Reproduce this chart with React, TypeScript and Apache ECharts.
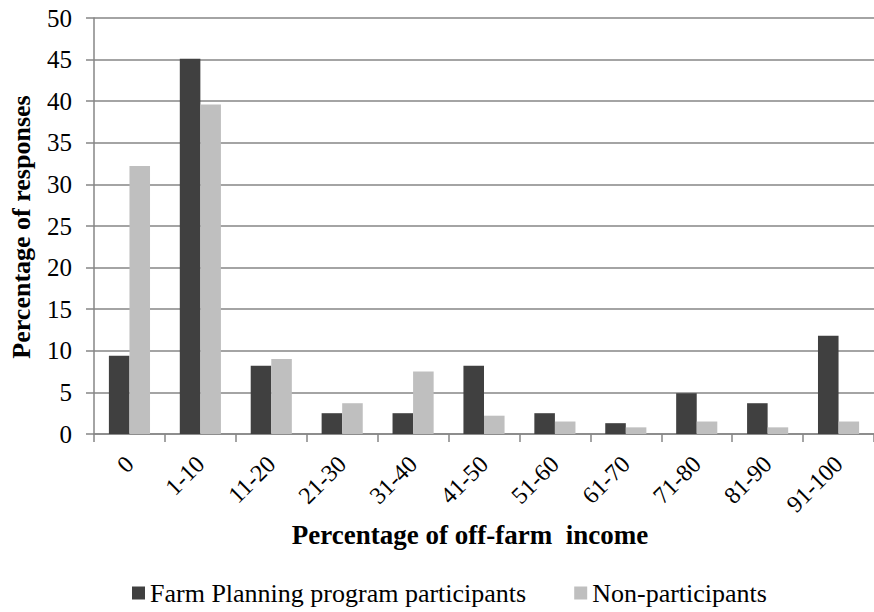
import React, { useEffect, useRef } from "react";
import * as echarts from "echarts";

const categories = ["0", "1-10", "11-20", "21-30", "31-40", "41-50", "51-60", "61-70", "71-80", "81-90", "91-100"];
const participants = [9.4, 45.1, 8.2, 2.5, 2.5, 8.2, 2.5, 1.3, 4.9, 3.7, 11.8];
const nonParticipants = [32.2, 39.6, 9.0, 3.7, 7.5, 2.2, 1.5, 0.8, 1.5, 0.8, 1.5];
const seriesNames = ["Farm Planning program participants", "Non-participants"];
const yAxisTitle = "Percentage of responses";
const xAxisTitle = "Percentage of off-farm  income";

const FONT = "Liberation Serif";
const AXIS_GRAY = "#868686";

export default function App() {
  const ref = useRef<HTMLDivElement>(null);
  useEffect(() => {
    document.body.style.margin = "0";
    if (!ref.current) return;
    const chart = echarts.init(ref.current, null, { renderer: "svg" });
    chart.setOption({
      animation: false,
      backgroundColor: "#ffffff",
      textStyle: { fontFamily: FONT },
      grid: { left: 94, top: 18, width: 789, height: 416, containLabel: false },
      legend: {
        show: true,
        left: 127,
        top: 575,
        itemWidth: 13,
        itemHeight: 13,
        itemGap: 48,
        icon: "rect",
        textStyle: { fontFamily: FONT, fontSize: 26, color: "#000" },
        data: seriesNames,
      },
      xAxis: {
        type: "category",
        data: categories,
        axisLine: { lineStyle: { color: AXIS_GRAY, width: 1.5 } },
        axisTick: { show: true, alignWithLabel: false, length: 8, lineStyle: { color: AXIS_GRAY, width: 1.5 } },
        axisLabel: { rotate: 45, margin: 26, fontFamily: FONT, fontSize: 24, color: "#000", interval: 0 },
      },
      yAxis: {
        type: "value",
        min: 0,
        max: 50,
        interval: 5,
        axisLine: { show: true, lineStyle: { color: AXIS_GRAY, width: 1.5 } },
        axisTick: { show: true, length: 8, lineStyle: { color: AXIS_GRAY, width: 1.5 } },
        splitLine: { lineStyle: { color: AXIS_GRAY, width: 1.5 } },
        axisLabel: { margin: 22, fontFamily: FONT, fontSize: 25, color: "#000" },
      },
      graphic: [
        {
          type: "text",
          x: 21,
          y: 227,
          rotation: Math.PI / 2,
          style: {
            text: yAxisTitle,
            fontFamily: FONT,
            fontSize: 26,
            fontWeight: "bold",
            fill: "#000",
            align: "center",
            verticalAlign: "middle",
          },
        },
        {
          type: "text",
          x: 470,
          y: 535,
          style: {
            text: xAxisTitle,
            fontFamily: FONT,
            fontSize: 27,
            fontWeight: "bold",
            fill: "#000",
            align: "center",
            verticalAlign: "middle",
          },
        },
      ],
      series: [
        {
          name: seriesNames[0],
          type: "bar",
          data: participants,
          barGap: "0%",
          barCategoryGap: "42%",
          itemStyle: { color: "#404040" },
        },
        {
          name: seriesNames[1],
          type: "bar",
          data: nonParticipants,
          barGap: "0%",
          barCategoryGap: "42%",
          itemStyle: { color: "#bfbfbf" },
        },
      ],
    });
    return () => chart.dispose();
  }, []);
  return <div ref={ref} style={{ width: 874, height: 612 }} />;
}
